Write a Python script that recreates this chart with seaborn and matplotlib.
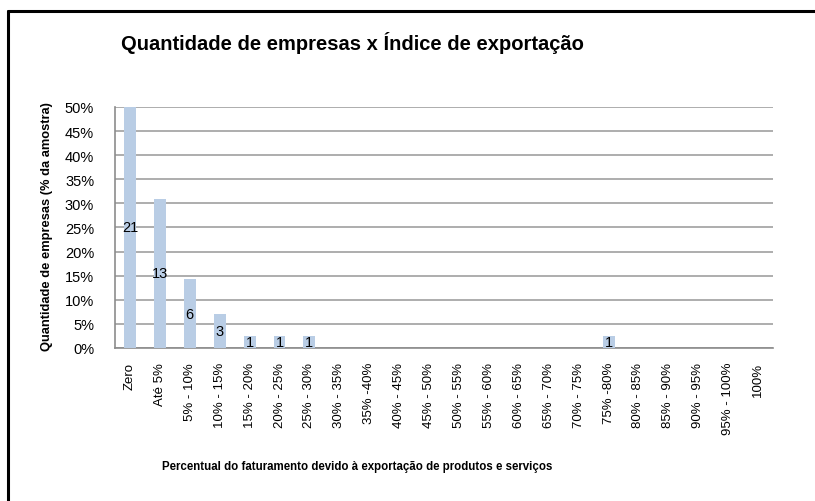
import matplotlib
matplotlib.use("Agg")
import matplotlib.pyplot as plt
from matplotlib.lines import Line2D
from matplotlib.ticker import FuncFormatter, MultipleLocator
import seaborn as sns
import pandas as pd

categories = ["Zero", "Até 5%", "5% - 10%", "10% - 15%", "15% - 20%", "20% - 25%",
              "25% - 30%", "30% - 35%", "35% -40%", "40% - 45%", "45% - 50%",
              "50% - 55%", "55% - 60%", "60% - 65%", "65% - 70%", "70% - 75%",
              "75% -80%", "80% - 85%", "85% - 90%", "90% - 95%", "95% - 100%", "100%"]
shares = [0.50, 0.31, 0.143, 0.071, 0.024, 0.024, 0.024, 0, 0, 0, 0,
          0, 0, 0, 0, 0, 0.024, 0, 0, 0, 0, 0]
counts = [21, 13, 6, 3, 1, 1, 1, 0, 0, 0, 0, 0, 0, 0, 0, 0, 1, 0, 0, 0, 0, 0]

df = pd.DataFrame({"cat": categories, "share": shares})

sns.set_theme(style="white")
plt.rcParams['font.family'] = ['Liberation Sans', 'DejaVu Sans']
plt.rcParams['text.color'] = 'black'

fig = plt.figure(figsize=(8.15, 5.02), dpi=100)
ax = fig.add_axes([0.1411, 0.3048, 0.8074, 0.4802])

sns.barplot(data=df, x="cat", y="share", color="#b9cde5", saturation=1,
            width=0.4, ax=ax, zorder=3, linewidth=0, edgecolor="none")

labels = [str(c) if c else "" for c in counts]
ax.bar_label(ax.containers[0], labels=labels, label_type="center",
             fontsize=10.5, color="black", zorder=4)

ax.set_ylim(0, 0.5)
ax.set_xlim(-0.5, len(categories) - 0.5)
ax.yaxis.set_major_locator(MultipleLocator(0.05))
ax.yaxis.set_major_formatter(FuncFormatter(lambda v, p: f"{round(v*100):d}%"))
ax.grid(axis="y", color="#a0a0a0", linewidth=1.2, zorder=0)
ax.set_axisbelow(True)
for s in ["top", "right"]:
    ax.spines[s].set_visible(False)
for s in ["left", "bottom"]:
    ax.spines[s].set_color("#8c8c8c")
    ax.spines[s].set_linewidth(1.2)
ax.tick_params(axis="y", labelsize=10.5, length=0, pad=15, labelcolor="black")
ax.tick_params(axis="x", labelsize=9.5, length=0, pad=10, labelcolor="black",
               rotation=90)
for t in ax.get_xticklabels():
    t.set_va("top")

ax.set_xlabel("Percentual do faturamento devido à exportação de produtos e serviços",
              fontsize=8.3, fontweight="bold", color="black")
ax.xaxis.set_label_coords(0.368, -0.465)
ax.set_ylabel("Quantidade de empresas (% da amostra)", fontsize=9.3,
              fontweight="bold", color="black")
ax.yaxis.set_label_coords(-0.103, 0.506)
ax.yaxis.label.set_va("center")

fig.text(0.433, 0.914, "Quantidade de empresas x Índice de exportação",
         ha="center", va="center", fontsize=14.5, fontweight="bold", color="black")

fig.add_artist(Line2D([0.0098, 1.0], [0.976, 0.976], color="black", linewidth=2.2,
                      transform=fig.transFigure))
fig.add_artist(Line2D([0.0104, 0.0104], [0.0, 0.976], color="black", linewidth=2.2,
                      transform=fig.transFigure))

fig.savefig("out.png", dpi=100)
